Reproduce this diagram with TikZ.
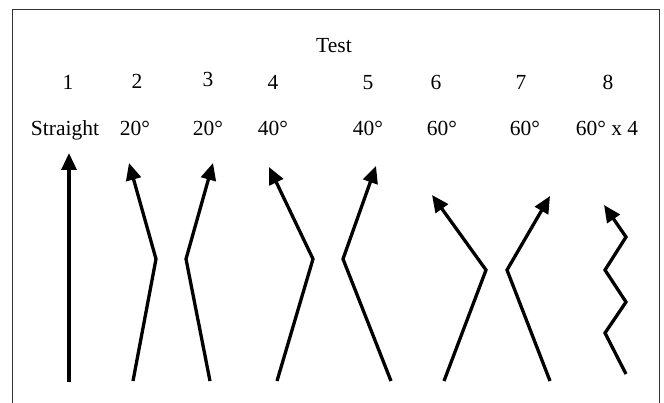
\documentclass[tikz,border=0pt]{standalone}
\usepackage{fontspec}
\setmainfont{Liberation Serif}
\usetikzlibrary{arrows.meta}
\begin{document}
\begin{tikzpicture}[x=1pt,y=-1pt,
  lbl/.style={font=\fontsize{21.5}{25}\selectfont, inner sep=0pt, anchor=base},
  trail/.style={line width=3.3pt, line join=miter, -{Triangle[length=17pt,width=15pt]}},
  frameline/.style={line width=1pt, draw=black!80}]
\useasboundingbox (0,0) rectangle (664,403);
\fill[white] (0,0) rectangle (664,403);
% frame
\coordinate (fbl) at (12,403);
\coordinate (ftl) at (12,10);
\coordinate (ftr) at (659,10);
\coordinate (fbr) at (659,403);
\draw[frameline] (fbl) -- (ftl) -- (ftr) -- (fbr);
% texts
\node[lbl] (title) at (334,53) {Test};
\node[lbl] (n1) at (68,90) {1};
\node[lbl] (n2) at (137,89) {2};
\node[lbl] (n3) at (208,87) {3};
\node[lbl] (n4) at (273,90) {4};
\node[lbl] (n5) at (368,90) {5};
\node[lbl] (n6) at (436,90) {6};
\node[lbl] (n7) at (521,90) {7};
\node[lbl] (n8) at (608,90) {8};
\node[lbl] (l1) at (65,136) {Straight};
\node[lbl] (l2) at (135,136) {20°};
\node[lbl] (l3) at (208,136) {20°};
\node[lbl] (l4) at (273,136) {40°};
\node[lbl] (l5) at (368,136) {40°};
\node[lbl] (l6) at (442,136) {60°};
\node[lbl] (l7) at (525,136) {60°};
\node[lbl] (l8) at (607,136) {60° x 4};
% arrow 1
\coordinate (a1s) at (69,382);
\coordinate (a1e) at (69,153);
\draw[trail] (a1s) -- (a1e);
% arrow 2
\coordinate (a2s) at (133,381);
\coordinate (a2b) at (156,259);
\coordinate (a2e) at (129,163);
\draw[trail] (a2s) -- (a2b) -- (a2e);
% arrow 3
\coordinate (a3s) at (210,381);
\coordinate (a3b) at (186,259);
\coordinate (a3e) at (213,163);
\draw[trail] (a3s) -- (a3b) -- (a3e);
% arrow 4
\coordinate (a4s) at (277,381);
\coordinate (a4b) at (313,259);
\coordinate (a4e) at (269,167);
\draw[trail] (a4s) -- (a4b) -- (a4e);
% arrow 5
\coordinate (a5s) at (391,381);
\coordinate (a5b) at (343,259);
\coordinate (a5e) at (376,166);
\draw[trail] (a5s) -- (a5b) -- (a5e);
% arrow 6
\coordinate (a6s) at (444,381);
\coordinate (a6b) at (486,270);
\coordinate (a6e) at (432,195);
\draw[trail] (a6s) -- (a6b) -- (a6e);
% arrow 7
\coordinate (a7s) at (550,381);
\coordinate (a7b) at (507,270);
\coordinate (a7e) at (550,196);
\draw[trail] (a7s) -- (a7b) -- (a7e);
% arrow 8
\coordinate (a8s) at (626,374);
\coordinate (a8p1) at (605,333);
\coordinate (a8p2) at (626,302);
\coordinate (a8p3) at (605,270);
\coordinate (a8p4) at (626,237);
\coordinate (a8e) at (604,205);
\draw[trail] (a8s) -- (a8p1) -- (a8p2) -- (a8p3) -- (a8p4) -- (a8e);
\end{tikzpicture}
\end{document}
